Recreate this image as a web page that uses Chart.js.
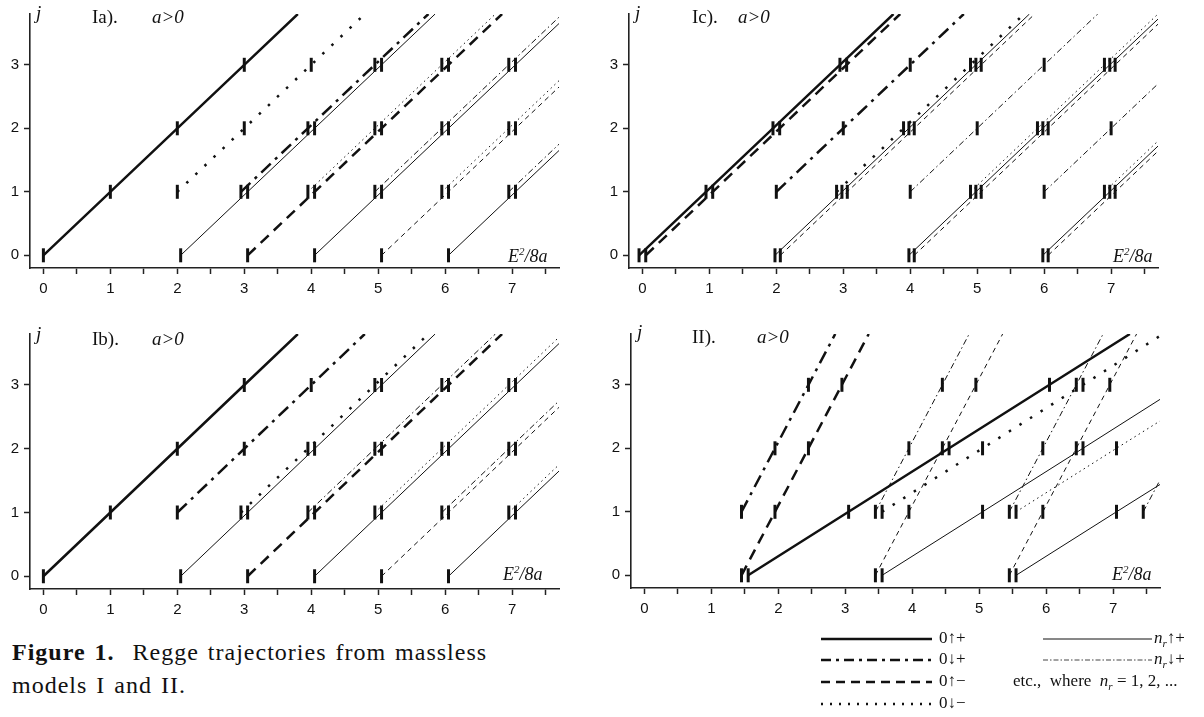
<!DOCTYPE html>
<html>
<head>
<meta charset="utf-8">
<script src="https://cdn.jsdelivr.net/npm/chart.js@4.4.1/dist/chart.umd.min.js"></script>
<style>
  body { margin: 0; background: #fff; width: 1204px; height: 717px; position: relative; overflow: hidden; }
  canvas { position: absolute; }
  .t { position: absolute; font-family: "Liberation Serif", serif; font-size: 19px; color: #111; white-space: nowrap; line-height: 1; }
  .i { font-style: italic; }
  .ax { font-size: 18px; font-style: italic; }
  sup { font-size: 11px; line-height: 0; vertical-align: 7px; }
  .cap { position: absolute; left: 12px; top: 636px; font-family: "Liberation Serif", serif; font-size: 24px; line-height: 33px;
         letter-spacing: 1px; word-spacing: 2px; color: #111; }
  .lg { position: absolute; font-family: "Liberation Serif", serif; font-size: 17px; color: #111; white-space: nowrap; }
  .lg sub { font-size: 11px; }
</style>
</head>
<body>
<canvas id="ia" width="570" height="300" style="left:0;top:0"></canvas>
<canvas id="ic" width="570" height="300" style="left:600px;top:0"></canvas>
<canvas id="ib" width="570" height="300" style="left:0;top:320px"></canvas>
<canvas id="ii" width="570" height="300" style="left:600px;top:320px"></canvas>

<!-- panel labels -->
<div class="t i" style="left:36px;top:3px">j</div>
<div class="t" style="left:92px;top:7px">Ia).</div>
<div class="t i" style="left:152px;top:7px">a&gt;0</div>
<div class="t ax" style="left:508px;top:247px">E<sup>2</sup>/8a</div>

<div class="t i" style="left:635px;top:3px">j</div>
<div class="t" style="left:692px;top:7px">Ic).</div>
<div class="t i" style="left:738px;top:7px">a&gt;0</div>
<div class="t ax" style="left:1113px;top:247px">E<sup>2</sup>/8a</div>

<div class="t i" style="left:36px;top:324px">j</div>
<div class="t" style="left:92px;top:329px">Ib).</div>
<div class="t i" style="left:152px;top:329px">a&gt;0</div>
<div class="t ax" style="left:503px;top:565px">E<sup>2</sup>/8a</div>

<div class="t i" style="left:637px;top:322px">j</div>
<div class="t" style="left:692px;top:327px">II).</div>
<div class="t i" style="left:757px;top:327px">a&gt;0</div>
<div class="t ax" style="left:1112px;top:565px">E<sup>2</sup>/8a</div>

<!-- caption -->
<div class="cap"><b>Figure 1.</b>&nbsp; Regge trajectories from massless<br>models I and II.</div>

<!-- legend -->
<svg id="legend" width="1204" height="717" style="position:absolute;left:0;top:0;pointer-events:none">
  <line x1="821" y1="639" x2="932" y2="639" stroke="#111" stroke-width="2.5"/>
  <line x1="821" y1="660" x2="932" y2="660" stroke="#111" stroke-width="2.5" stroke-dasharray="10 5 3 5"/>
  <line x1="821" y1="682" x2="932" y2="682" stroke="#111" stroke-width="2.5" stroke-dasharray="9 6"/>
  <line x1="821" y1="704" x2="932" y2="704" stroke="#111" stroke-width="2.5" stroke-dasharray="2 7"/>
  <line x1="1043" y1="639" x2="1152" y2="639" stroke="#111" stroke-width="1"/>
  <line x1="1043" y1="660" x2="1152" y2="660" stroke="#444" stroke-width="1" stroke-dasharray="5 2 1.5 2"/>
</svg>
<div class="lg" style="left:939px;top:628px">0↑+</div>
<div class="lg" style="left:939px;top:649px">0↓+</div>
<div class="lg" style="left:939px;top:671px">0↑−</div>
<div class="lg" style="left:939px;top:693px">0↓−</div>
<div class="lg" style="left:1154px;top:628px"><i>n</i><sub><i>r</i></sub>↑+</div>
<div class="lg" style="left:1154px;top:649px"><i>n</i><sub><i>r</i></sub>↓+</div>
<div class="lg" style="left:1013px;top:671px">etc.,&nbsp; where &nbsp;<i>n</i><sub><i>r</i></sub> = 1, 2, ...</div>

<script>
// tick values shared by all panels
const xTickVals = [0, 0.5, 1, 1.5, 2, 2.5, 3, 3.5, 4, 4.5, 5, 5.5, 6, 6.5, 7, 7.5];
const yTickVals = [0, 1, 2, 3];

// ---- panel Ia ----
const ia_up_p0 = [[0,0],[1,1],[2,2],[3,3],[3.8,3.8]];
const ia_dn_m0 = [[2,1],[3,2],[4,3],[4.8,3.8]];
const ia_dn_p0 = [[2.95,1],[3.95,2],[4.95,3],[5.75,3.8]];
const ia_up_m0 = [[3.05,0],[4.05,1],[5.05,2],[6.05,3],[6.85,3.8]];
const ia_up_p1 = [[2.05,0],[3.05,1],[4.05,2],[5.05,3],[5.85,3.8]];
const ia_dn_m1 = [[3.95,1],[4.95,2],[5.95,3],[6.75,3.8]];
const ia_dn_p1 = [[4.95,1],[5.95,2],[6.95,3],[7.7,3.75]];
const ia_up_m1 = [[5.05,0],[6.05,1],[7.05,2],[7.7,2.65]];
const ia_up_p2 = [[4.05,0],[5.05,1],[6.05,2],[7.05,3],[7.7,3.65]];
const ia_dn_m2 = [[5.95,1],[6.95,2],[7.7,2.75]];
const ia_dn_p2 = [[6.95,1],[7.7,1.75]];
const ia_up_p3 = [[6.05,0],[7.05,1],[7.7,1.65]];

// ---- panel Ib ----
const ib_up_p0 = [[0,0],[1,1],[2,2],[3,3],[3.8,3.8]];
const ib_dn_p0 = [[2,1],[3,2],[4,3],[4.8,3.8]];
const ib_dn_m0 = [[2.95,1],[3.95,2],[4.95,3],[5.75,3.8]];
const ib_up_m0 = [[3.05,0],[4.05,1],[5.05,2],[6.05,3],[6.85,3.8]];
const ib_up_p1 = [[2.05,0],[3.05,1],[4.05,2],[5.05,3],[5.85,3.8]];
const ib_dn_p1 = [[3.95,1],[4.95,2],[5.95,3],[6.75,3.8]];
const ib_dn_m1 = [[4.95,1],[5.95,2],[6.95,3],[7.7,3.75]];
const ib_up_m1 = [[5.05,0],[6.05,1],[7.05,2],[7.7,2.65]];
const ib_up_p2 = [[4.05,0],[5.05,1],[6.05,2],[7.05,3],[7.7,3.65]];
const ib_dn_p2 = [[5.95,1],[6.95,2],[7.7,2.75]];
const ib_dn_m2 = [[6.95,1],[7.7,1.75]];
const ib_up_p3 = [[6.05,0],[7.05,1],[7.7,1.65]];

// ---- panel Ic ----
const ic_up_p0 = [[-0.05,0],[0.95,1],[1.95,2],[2.95,3],[3.75,3.8]];
const ic_up_m0 = [[0.05,0],[1.05,1],[2.05,2],[3.05,3],[3.85,3.8]];
const ic_dn_p0 = [[2,1],[3,2],[4,3],[4.8,3.8]];
const ic_dn_m0 = [[2.9,1],[3.9,2],[4.9,3],[5.7,3.8]];
const ic_up_p1 = [[1.98,0],[2.98,1],[3.98,2],[4.98,3],[5.78,3.8]];
const ic_up_m1 = [[2.06,0],[3.06,1],[4.06,2],[5.06,3],[5.86,3.8]];
const ic_dn_p1 = [[4,1],[5,2],[6,3],[6.8,3.8]];
const ic_dn_m1 = [[4.9,1],[5.9,2],[6.9,3],[7.7,3.8]];
const ic_up_p2 = [[3.98,0],[4.98,1],[5.98,2],[6.98,3],[7.7,3.72]];
const ic_up_m2 = [[4.06,0],[5.06,1],[6.06,2],[7.06,3],[7.7,3.64]];
const ic_dn_p2 = [[6,1],[7,2],[7.7,2.7]];
const ic_dn_m2 = [[6.9,1],[7.7,1.8]];
const ic_up_p3 = [[5.98,0],[6.98,1],[7.7,1.72]];
const ic_up_m3 = [[6.06,0],[7.06,1],[7.7,1.64]];

// ---- panel II ----
const ii_up_p0 = [[1.55,0],[3.05,1],[4.55,2],[6.05,3],[7.25,3.8]];
const ii_dn_p0 = [[1.45,1],[1.95,2],[2.45,3],[2.85,3.8]];
const ii_up_m0 = [[1.45,0],[1.95,1],[2.45,2],[2.95,3],[3.35,3.8]];
const ii_dn_m0 = [[3.55,1],[5.05,2],[6.55,3],[7.7,3.77]];
const ii_up_p1 = [[3.55,0],[5.05,1],[6.55,2],[7.7,2.77]];
const ii_dn_p1 = [[3.45,1],[3.95,2],[4.45,3],[4.85,3.8]];
const ii_up_m1 = [[3.45,0],[3.95,1],[4.45,2],[4.95,3],[5.35,3.8]];
const ii_dn_m1 = [[5.55,1],[7.05,2],[7.7,2.43]];
const ii_up_p2 = [[5.55,0],[7.05,1],[7.7,1.43]];
const ii_dn_p2 = [[5.45,1],[5.95,2],[6.45,3],[6.85,3.8]];
const ii_up_m2 = [[5.45,0],[5.95,1],[6.45,2],[6.95,3],[7.35,3.8]];
const ii_dn_p3 = [[7.45,1],[7.7,1.5]];

// line styles (legend: thick = n_r 0, thin = n_r 1, 2, ...)
const styles = {
    thickSolid:   { borderWidth: 2.5, borderDash: [] },
    thickDashDot: { borderWidth: 2.5, borderDash: [13, 6, 3, 6] },
    thickDash:    { borderWidth: 2.5, borderDash: [11, 7] },
    thickDot:     { borderWidth: 2.5, borderDash: [2.5, 10] },
    thinSolid:    { borderWidth: 1, borderDash: [] },
    thinDashDot:  { borderWidth: 1, borderDash: [6, 3, 1.5, 3] },
    thinDash:     { borderWidth: 1, borderDash: [5, 4] },
    thinDot:      { borderWidth: 1, borderDash: [1.5, 3.5] }
};

function makePanel(id, series, box) {
    const ctx = document.getElementById(id).getContext('2d');
    const datasets = series.map(([pts, st]) => ({
        data: pts.map(([x, y]) => ({ x: x, y: y })),
        showLine: true,
        borderColor: '#111',
        borderWidth: styles[st].borderWidth,
        borderDash: styles[st].borderDash,
        pointStyle: 'line',
        pointRotation: 90,
        // vertical bar only on the integer-j states, not on the end of the line
        pointRadius: c => (c.raw && Number.isInteger(c.raw.y)) ? 7 : 0,
        pointBorderWidth: 3,
        pointBorderColor: '#111',
        pointBackgroundColor: '#111'
    }));

    return new Chart(ctx, {
        type: 'scatter',
        data: { datasets: datasets },
        options: {
            responsive: false,
            animation: false,
            devicePixelRatio: 1,
            layout: { padding: { top: box.padTop, right: box.padRight, left: 0, bottom: 0 } },
            plugins: { legend: { display: false }, tooltip: { enabled: false } },
            scales: {
                x: {
                    type: 'linear', min: -0.2, max: 7.7,
                    afterBuildTicks: s => { s.ticks = xTickVals.map(v => ({ value: v })); },
                    afterFit: s => { s.height = box.xh; },
                    ticks: {
                        autoSkip: false, maxRotation: 0, padding: 6, color: '#111',
                        font: { family: 'Liberation Sans', size: 15 },
                        callback: v => Number.isInteger(v) ? String(v) : ''
                    },
                    grid: { drawOnChartArea: false, drawTicks: true, tickLength: 6, tickWidth: 1.5, tickColor: '#222' },
                    border: { display: true, color: '#222', width: 1.6 }
                },
                y: {
                    type: 'linear', min: -0.2, max: 3.8,
                    afterBuildTicks: s => { s.ticks = yTickVals.map(v => ({ value: v })); },
                    afterFit: s => { s.width = box.yw; },
                    ticks: {
                        autoSkip: false, padding: 5, color: '#111',
                        font: { family: 'Liberation Sans', size: 15 },
                        callback: v => String(v)
                    },
                    grid: { drawOnChartArea: false, drawTicks: true, tickLength: 6, tickWidth: 1.5, tickColor: '#222' },
                    border: { display: true, color: '#222', width: 1.6 }
                }
            }
        }
    });
}

makePanel('ia', [
    [ia_up_p0, 'thickSolid'], [ia_dn_m0, 'thickDot'], [ia_dn_p0, 'thickDashDot'], [ia_up_m0, 'thickDash'],
    [ia_up_p1, 'thinSolid'], [ia_dn_m1, 'thinDot'], [ia_dn_p1, 'thinDashDot'], [ia_up_m1, 'thinDash'],
    [ia_up_p2, 'thinSolid'], [ia_dn_m2, 'thinDot'], [ia_dn_p2, 'thinDashDot'], [ia_up_p3, 'thinSolid']
], { yw: 30, xh: 32, padTop: 4, padRight: 11 });

makePanel('ib', [
    [ib_up_p0, 'thickSolid'], [ib_dn_p0, 'thickDashDot'], [ib_dn_m0, 'thickDot'], [ib_up_m0, 'thickDash'],
    [ib_up_p1, 'thinSolid'], [ib_dn_p1, 'thinDashDot'], [ib_dn_m1, 'thinDot'], [ib_up_m1, 'thinDash'],
    [ib_up_p2, 'thinSolid'], [ib_dn_p2, 'thinDashDot'], [ib_dn_m2, 'thinDot'], [ib_up_p3, 'thinSolid']
], { yw: 30, xh: 31, padTop: 4, padRight: 11 });

makePanel('ic', [
    [ic_up_p0, 'thickSolid'], [ic_up_m0, 'thickDash'], [ic_dn_p0, 'thickDashDot'], [ic_dn_m0, 'thickDot'],
    [ic_up_p1, 'thinSolid'], [ic_up_m1, 'thinDash'], [ic_dn_p1, 'thinDashDot'], [ic_dn_m1, 'thinDot'],
    [ic_up_p2, 'thinSolid'], [ic_up_m2, 'thinDash'], [ic_dn_p2, 'thinDashDot'], [ic_dn_m2, 'thinDot'],
    [ic_up_p3, 'thinSolid'], [ic_up_m3, 'thinDash']
], { yw: 29, xh: 32, padTop: 4, padRight: 12 });

makePanel('ii', [
    [ii_up_p0, 'thickSolid'], [ii_dn_p0, 'thickDashDot'], [ii_up_m0, 'thickDash'], [ii_dn_m0, 'thickDot'],
    [ii_up_p1, 'thinSolid'], [ii_dn_p1, 'thinDashDot'], [ii_up_m1, 'thinDash'], [ii_dn_m1, 'thinDot'],
    [ii_up_p2, 'thinSolid'], [ii_dn_p2, 'thinDashDot'], [ii_up_m2, 'thinDash'], [ii_dn_p3, 'thinDashDot']
], { yw: 31, xh: 32, padTop: 3, padRight: 7 });
</script>
</body>
</html>
